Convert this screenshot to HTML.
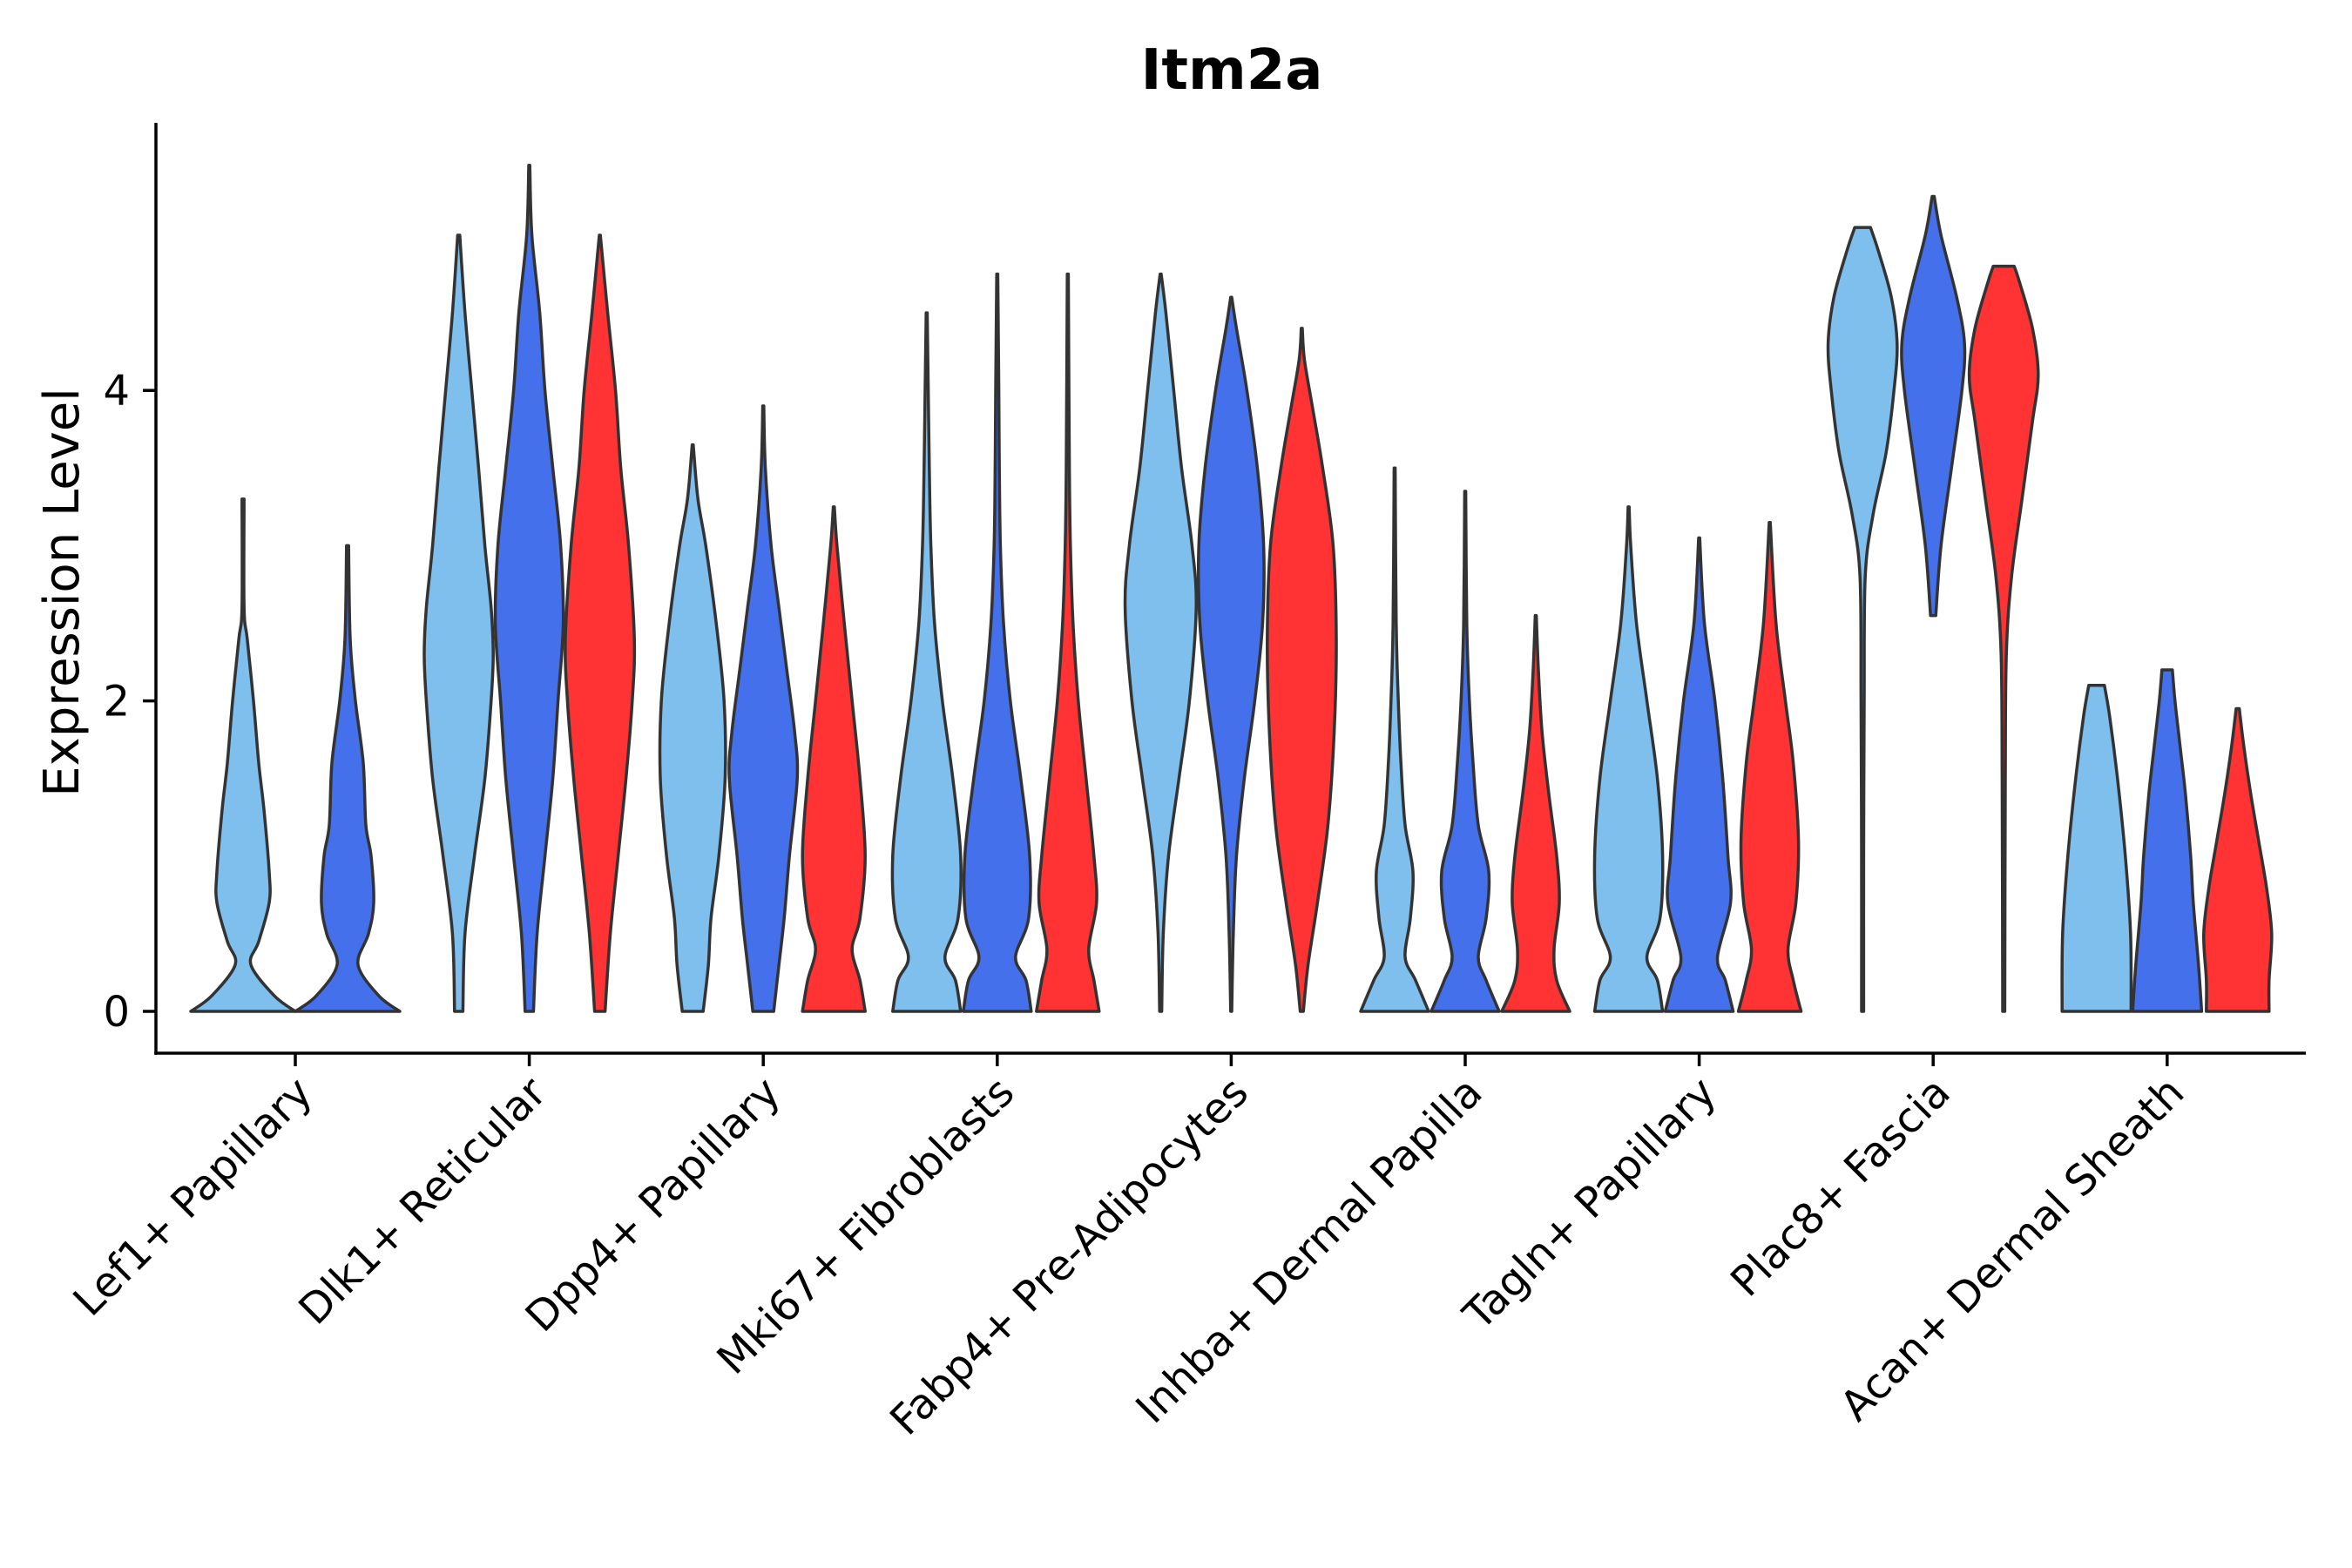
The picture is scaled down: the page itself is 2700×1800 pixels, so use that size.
<!DOCTYPE html>
<html><head><meta charset="utf-8"><style>
html,body{margin:0;padding:0;background:#fff;}
svg{display:block;font-family:"DejaVu Sans","Liberation Sans",sans-serif;}
</style></head><body>
<svg id="chart" width="2700" height="1800" viewBox="0 0 2700 1800" xmlns="http://www.w3.org/2000/svg">
<rect width="2700" height="1800" fill="#fff"/>
<text x="1414" y="102" font-size="64" font-weight="bold" text-anchor="middle">Itm2a</text>
<text transform="translate(90,680) rotate(-90)" font-size="56" text-anchor="middle">Expression Level</text>
<g id="violins"></g>
<g id="axes"></g>
</svg>
<script>
const categories = ["Lef1+ Papillary","Dlk1+ Reticular","Dpp4+ Papillary","Mki67+ Fibroblasts","Fabp4+ Pre-Adipocytes","Inhba+ Dermal Papilla","Tagln+ Papillary","Plac8+ Fascia","Acan+ Dermal Sheath"];
const seriesColors = ["#7fbfee","#4570eb","#ff3333"];
const yTicks = [0,2,4];
// profiles: [expression, relative half-width]
const lightBlue = [
 [[0,1],[0.1,0.6],[0.3,0.15],[0.45,0.3],[0.7,0.5],[0.9,0.5],[1.3,0.4],[1.6,0.3],[2.0,0.2],[2.4,0.08],[2.6,0.02],[3.3,0.02]],
 [[0,0.08],[0.5,0.12],[1.0,0.3],[1.5,0.5],[2.0,0.62],[2.3,0.66],[2.6,0.62],[3.0,0.5],[3.5,0.38],[4.0,0.25],[4.5,0.12],[5.0,0.02]],
 [[0,0.2],[0.3,0.3],[0.6,0.35],[1.0,0.5],[1.5,0.62],[2.0,0.6],[2.5,0.45],[3.0,0.25],[3.3,0.1],[3.65,0.01]],
 [[0,0.65],[0.2,0.55],[0.35,0.35],[0.6,0.6],[1.0,0.65],[1.5,0.5],[2.0,0.3],[2.5,0.15],[3.0,0.08],[3.5,0.05],[4.0,0.03],[4.5,0.01]],
 [[0,0.02],[0.5,0.05],[1.0,0.15],[1.5,0.35],[2.0,0.55],[2.6,0.68],[3.0,0.6],[3.5,0.4],[4.0,0.25],[4.5,0.1],[4.75,0.01]],
 [[0,0.65],[0.2,0.4],[0.35,0.2],[0.6,0.3],[0.9,0.35],[1.2,0.2],[1.6,0.12],[2.0,0.07],[2.5,0.03],[3.5,0.01]],
 [[0,0.65],[0.2,0.55],[0.35,0.35],[0.6,0.6],[1.0,0.65],[1.5,0.55],[2.0,0.35],[2.5,0.15],[3.0,0.04],[3.25,0.01]],
 [[0,0.02],[1.0,0.02],[2.0,0.03],[2.8,0.05],[3.2,0.2],[3.6,0.45],[4.0,0.6],[4.3,0.66],[4.6,0.55],[4.9,0.3],[5.05,0.15]],
 [[0,0.66],[0.5,0.65],[1.0,0.55],[1.5,0.4],[1.9,0.25],[2.1,0.15]]
];
const royalBlue = [
 [[0,1],[0.1,0.6],[0.3,0.2],[0.5,0.4],[0.7,0.5],[1.0,0.45],[1.2,0.35],[1.6,0.3],[2.0,0.15],[2.4,0.05],[3.0,0.02]],
 [[0,0.08],[0.5,0.15],[1.0,0.3],[1.5,0.45],[2.0,0.55],[2.5,0.65],[3.0,0.6],[3.5,0.45],[4.0,0.3],[4.5,0.2],[5.0,0.05],[5.45,0.01]],
 [[0,0.2],[0.3,0.3],[0.6,0.4],[1.0,0.5],[1.5,0.65],[1.8,0.6],[2.2,0.45],[2.6,0.3],[3.0,0.15],[3.5,0.04],[3.9,0.01]],
 [[0,0.65],[0.2,0.55],[0.35,0.35],[0.6,0.6],[1.0,0.62],[1.5,0.45],[2.0,0.25],[2.5,0.12],[3.0,0.06],[3.5,0.04],[4.0,0.03],[4.75,0.01]],
 [[0,0.01],[0.5,0.04],[1.0,0.1],[1.5,0.25],[2.0,0.45],[2.5,0.6],[3.0,0.62],[3.5,0.5],[4.0,0.3],[4.4,0.1],[4.6,0.01]],
 [[0,0.65],[0.2,0.4],[0.35,0.25],[0.6,0.4],[0.9,0.45],[1.2,0.25],[1.6,0.15],[2.0,0.08],[2.5,0.03],[3.35,0.01]],
 [[0,0.65],[0.2,0.5],[0.35,0.35],[0.7,0.6],[1.0,0.55],[1.5,0.45],[2.0,0.3],[2.5,0.1],[3.05,0.01]],
 [[2.55,0.05],[3.0,0.15],[3.5,0.35],[4.0,0.55],[4.3,0.6],[4.6,0.45],[5.0,0.15],[5.25,0.02]],
 [[0,0.66],[0.3,0.6],[0.7,0.5],[1.0,0.45],[1.4,0.35],[1.7,0.25],[2.0,0.15],[2.2,0.1]]
];
const red = [
 null,
 [[0,0.1],[0.5,0.2],[1.0,0.35],[1.5,0.5],[2.0,0.62],[2.4,0.66],[3.0,0.55],[3.5,0.4],[4.0,0.3],[4.5,0.15],[5.0,0.01]],
 [[0,0.6],[0.2,0.5],[0.4,0.35],[0.6,0.5],[1.0,0.6],[1.5,0.5],[2.0,0.35],[2.5,0.2],[3.0,0.06],[3.25,0.01]],
 [[0,0.6],[0.2,0.5],[0.4,0.4],[0.7,0.55],[1.0,0.5],[1.5,0.35],[2.0,0.2],[2.5,0.1],[3.0,0.05],[3.5,0.03],[4.75,0.01]],
 [[0,0.03],[0.3,0.12],[0.7,0.3],[1.2,0.5],[1.8,0.62],[2.4,0.66],[3.0,0.6],[3.5,0.4],[3.9,0.2],[4.2,0.05],[4.4,0.01]],
 [[0,0.65],[0.2,0.4],[0.4,0.35],[0.7,0.45],[1.0,0.4],[1.4,0.25],[1.8,0.12],[2.2,0.05],[2.55,0.01]],
 [[0,0.6],[0.2,0.45],[0.4,0.35],[0.7,0.5],[1.1,0.55],[1.6,0.45],[2.0,0.3],[2.5,0.12],[3.15,0.01]],
 [[0,0.02],[1.5,0.03],[2.3,0.05],[2.8,0.15],[3.3,0.35],[3.8,0.55],[4.1,0.66],[4.4,0.55],[4.7,0.3],[4.8,0.2]],
 [[0,0.6],[0.2,0.6],[0.5,0.65],[0.8,0.55],[1.1,0.4],[1.4,0.25],[1.7,0.12],[1.95,0.03]]
];
const NS="http://www.w3.org/2000/svg";
const X0=179, X1=2647, Y0=1161, UNIT=178.2, AXB=1209, AXT=141;
const xCat = i => 339 + i*268.6;
const yVal = v => Y0 - v*UNIT;
const wScale = w => w*60;
const vg=document.getElementById('violins');
const ag=document.getElementById('axes');
function smoothSide(pts){
  // Catmull-Rom to cubic bezier through pts
  let d="";
  for(let i=0;i<pts.length-1;i++){
    const p0=pts[Math.max(i-1,0)],p1=pts[i],p2=pts[i+1],p3=pts[Math.min(i+2,pts.length-1)];
    const c1=[p1[0]+(p2[0]-p0[0])/6,p1[1]+(p2[1]-p0[1])/6];
    const c2=[p2[0]-(p3[0]-p1[0])/6,p2[1]-(p3[1]-p1[1])/6];
    d+=" C"+c1[0].toFixed(1)+","+c1[1].toFixed(1)+" "+c2[0].toFixed(1)+","+c2[1].toFixed(1)+" "+p2[0].toFixed(1)+","+p2[1].toFixed(1);
  }
  return d;
}
function pathFor(cx, prof){
  const r=prof.map(p=>[cx+wScale(p[1]), yVal(p[0])]);
  const l=prof.slice().reverse().map(p=>[cx-wScale(p[1]), yVal(p[0])]);
  let d="M"+l[l.length-1][0].toFixed(1)+","+l[l.length-1][1].toFixed(1)+" L"+r[0][0].toFixed(1)+","+r[0][1].toFixed(1);
  d+=smoothSide(r);
  d+=" L"+l[0][0].toFixed(1)+","+l[0][1].toFixed(1);
  d+=smoothSide(l);
  return d+" Z";
}
categories.forEach((c,i)=>{
  const sets=[lightBlue[i],royalBlue[i],red[i]];
  const present=[0,1,2].filter(k=>sets[k]);
  const off = present.length===3 ? [-81,0,81] : [-60,60];
  present.forEach((k,j)=>{
    const p=document.createElementNS(NS,'path');
    p.setAttribute('d',pathFor(xCat(i)+off[j],sets[k]));
    p.setAttribute('fill',seriesColors[k]);
    p.setAttribute('stroke','#333');
    p.setAttribute('stroke-width','3.5');
    p.setAttribute('stroke-linejoin','round');
    
    
    vg.appendChild(p);
  });
  const t=document.createElementNS(NS,'line');
  t.setAttribute('x1',xCat(i));t.setAttribute('x2',xCat(i));
  t.setAttribute('y1',AXB);t.setAttribute('y2',AXB+15);
  t.setAttribute('stroke','#000');t.setAttribute('stroke-width','3.5');
  
  
  ag.appendChild(t);
  const tx=document.createElementNS(NS,'text');
  tx.textContent=c;
  tx.setAttribute('font-size','48');
  tx.setAttribute('text-anchor','end');
  tx.setAttribute('transform','translate('+(xCat(i)+22)+','+(AXB+48)+') rotate(-45)');
  
  
  ag.appendChild(tx);
});
yTicks.forEach(v=>{
  const t=document.createElementNS(NS,'line');
  t.setAttribute('x1',X0-15);t.setAttribute('x2',X0);
  t.setAttribute('y1',yVal(v));t.setAttribute('y2',yVal(v));
  t.setAttribute('stroke','#000');t.setAttribute('stroke-width','3.5');
  
  
  ag.appendChild(t);
  const tx=document.createElementNS(NS,'text');
  tx.textContent=v;
  tx.setAttribute('x',X0-30);tx.setAttribute('y',yVal(v)+17);
  tx.setAttribute('font-size','48');tx.setAttribute('text-anchor','end');
  
  
  ag.appendChild(tx);
});
const ya=document.createElementNS(NS,'line');
ya.setAttribute('x1',X0);ya.setAttribute('x2',X0);ya.setAttribute('y1',AXT);ya.setAttribute('y2',AXB+1.75);
ya.setAttribute('stroke','#000');ya.setAttribute('stroke-width','3.5');


ag.appendChild(ya);
const xa=document.createElementNS(NS,'line');
xa.setAttribute('x1',X0-1.75);xa.setAttribute('x2',X1);xa.setAttribute('y1',AXB);xa.setAttribute('y2',AXB);
xa.setAttribute('stroke','#000');xa.setAttribute('stroke-width','3.5');


ag.appendChild(xa);
</script>
</body></html>
